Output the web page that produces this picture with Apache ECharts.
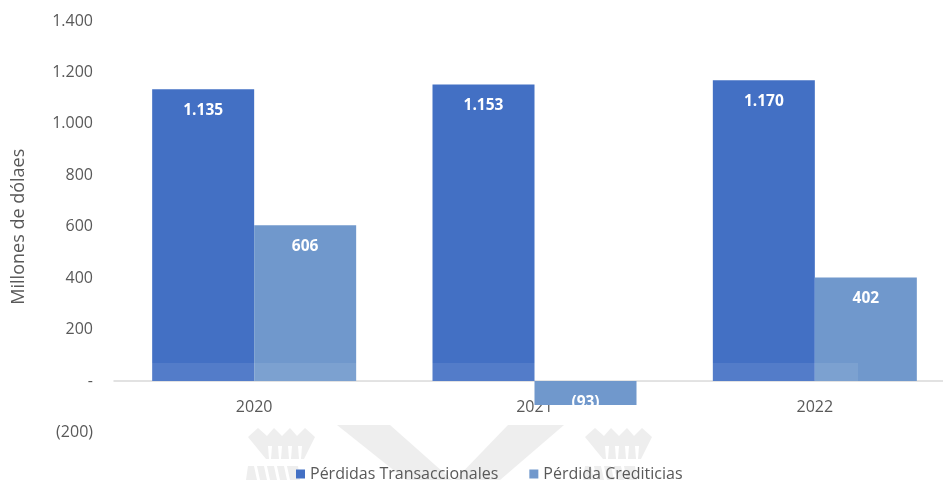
<!DOCTYPE html>
<html>
<head>
<meta charset="utf-8">
<script src="https://cdn.jsdelivr.net/npm/echarts@6/dist/echarts.min.js"></script>
<style>
  html, body { margin: 0; padding: 0; background: #ffffff; }
  #chart { width: 943px; height: 480px; }
</style>
</head>
<body>
<div id="chart"></div>
<script>
// Pérdidas por año (millones de dólares)
const years = ['2020', '2021', '2022'];
const perdidasTransaccionales = [1135, 1153, 1170];
const perdidaCrediticias = [606, -93, 402];
const seriesNames = ['Pérdidas Transaccionales', 'Pérdida Crediticias'];

// Spanish-style number format: dot thousands, negatives in parentheses, zero as dash
function fmt(v) {
  if (v === 0) return '-';
  const s = Math.abs(v).toString().replace(/\B(?=(\d{3})+(?!\d))/g, '.');
  return v < 0 ? '(' + s + ')' : s;
}

const FONT = '"Open Sans", sans-serif';
const GREY = '#595959';
const LOGO = '#eeeeee';

const chart = echarts.init(document.getElementById('chart'), null, { renderer: 'canvas' });

// Faint crown-shaped logo: zigzag top, tapering fan, white ribs, and a base band
function crown(cx) {
  const fan = [
    [cx - 34, 437], [cx - 24, 428], [cx - 15, 436], [cx - 8, 428], [cx, 436],
    [cx + 8, 428], [cx + 15, 436], [cx + 23, 428], [cx + 33, 437],
    [cx + 22, 459], [cx - 16, 459]
  ];
  const parts = [
    { type: 'polygon', z: 0, silent: true, shape: { points: fan }, style: { fill: LOGO } },
    { type: 'polygon', z: 0, silent: true,
      shape: { points: [[cx - 34, 466], [cx + 16, 466], [cx + 18, 480], [cx - 36, 480]] },
      style: { fill: LOGO } }
  ];
  [-12, -2, 8, 18].forEach(dx => {
    parts.push({ type: 'polygon', z: 1, silent: true,
      shape: { points: [[cx + dx - 2, 446], [cx + dx + 2, 446], [cx + dx + 1, 459], [cx + dx - 1, 459]] },
      style: { fill: '#ffffff' } });
  });
  [-28, -18, -8, 2].forEach(dx => {
    parts.push({ type: 'polygon', z: 1, silent: true,
      shape: { points: [[cx + dx, 466], [cx + dx + 3, 466], [cx + dx + 6, 480], [cx + dx + 3, 480]] },
      style: { fill: '#ffffff' } });
  });
  return parts;
}

const labelBase = {
  show: true,
  color: '#ffffff',
  fontFamily: FONT,
  fontWeight: 'bold',
  fontSize: 15.5,
  formatter: p => fmt(p.value)
};

chart.setOption({
  animation: false,
  backgroundColor: '#ffffff',
  // plot area runs past the right edge of the canvas
  grid: { left: 114, width: 841, top: 21, bottom: 47.6, outerBoundsMode: 'none' },
  legend: {
    left: 296,
    top: 466,
    padding: 0,
    itemWidth: 9,
    itemHeight: 9,
    itemGap: 31,
    icon: 'rect',
    textStyle: { color: GREY, fontFamily: FONT, fontSize: 16 },
    data: seriesNames
  },
  xAxis: {
    type: 'category',
    data: years,
    axisLine: { onZero: true, lineStyle: { color: '#d9d9d9', width: 1.5 } },
    axisTick: { show: false },
    // labels sit just under the zero line
    axisLabel: { color: GREY, fontFamily: FONT, fontSize: 16, margin: -33 },
    splitLine: { show: false }
  },
  yAxis: {
    type: 'value',
    min: -200,
    max: 1400,
    interval: 200,
    name: 'Millones de dólaes',
    nameLocation: 'middle',
    nameGap: 86,
    nameTextStyle: { color: GREY, fontFamily: FONT, fontSize: 18 },
    axisLine: { show: false },
    axisTick: { show: false },
    splitLine: { show: false },
    axisLabel: { color: GREY, fontFamily: FONT, fontSize: 16, margin: 21, formatter: fmt }
  },
  series: [
    {
      name: seriesNames[0],
      type: 'bar',
      data: perdidasTransaccionales,
      barWidth: 102,
      barGap: '0%',
      itemStyle: { color: '#4370C4' },
      label: Object.assign({ position: 'insideTop', distance: 13 }, labelBase)
    },
    {
      name: seriesNames[1],
      type: 'bar',
      data: perdidaCrediticias.map(v => v < 0
        ? { value: v, label: { position: 'insideBottom', distance: -6 } }
        : v),
      barWidth: 102,
      barGap: '0%',
      itemStyle: { color: '#7098CC' },
      label: Object.assign({ position: 'insideTop', distance: 13 }, labelBase)
    }
  ],
  graphic: [
    // light band across the foot of the bars
    { type: 'rect', z: 100, silent: true, shape: { x: 152, y: 363, width: 706, height: 18 },
      style: { fill: 'rgba(255,255,255,0.09)' } },
    // faint logo behind the legend
    { type: 'polygon', z: 0, silent: true,
      shape: { points: [[337, 425], [390, 425], [452, 480], [406, 480]] }, style: { fill: LOGO } },
    { type: 'polygon', z: 0, silent: true,
      shape: { points: [[508, 425], [564, 425], [500, 480], [455, 480]] }, style: { fill: LOGO } }
  ].concat(crown(282), crown(619))
});
</script>
</body>
</html>
